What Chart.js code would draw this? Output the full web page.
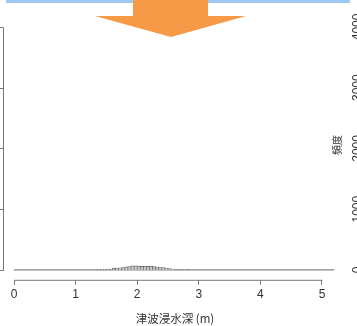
<!DOCTYPE html>
<html>
<head>
<meta charset="utf-8">
<script src="https://cdn.jsdelivr.net/npm/chart.js@4/dist/chart.umd.min.js"></script>
<style>
    body { margin: 0; background: #fff; }
    #wrap { position: relative; width: 357px; height: 326px; overflow: hidden; }
    #topBar { position: absolute; left: 6px; top: 0; width: 344px; height: 3px; background: #9fc9f4; }
    #arrow {
        position: absolute; left: 95px; top: 0; width: 151px; height: 37px; background: #f79a48;
        clip-path: polygon(38px 0, 113px 0, 113px 16px, 151px 16px, 76px 37px, 0 16px, 38px 16px);
    }
</style>
</head>
<body>
<div id="wrap">
    <canvas id="histChart" width="357" height="326"></canvas>
    <div id="topBar"></div>
    <div id="arrow"></div>
</div>
<script>
// bin left edges (m), width 0.05
const binStarts = [1.35, 1.40, 1.45, 1.50, 1.55, 1.60, 1.65, 1.70, 1.75, 1.80, 1.85, 1.90, 1.95, 2.00,
    2.05, 2.10, 2.15, 2.20, 2.25, 2.30, 2.35, 2.40, 2.45, 2.50, 2.55, 2.60, 2.65, 2.70, 2.75, 2.80];
const counts = [8, 10, 10, 12, 14, 25, 30, 35, 40, 50, 55, 65, 65, 62,
    58, 60, 58, 62, 55, 48, 40, 38, 30, 22, 15, 12, 8, 6, 0, 5];
const binWidth = 0.05;
// empty bins of the histogram show up as a flat line over the whole break range
const baselineX = [0, 5.2];
const xTicks = [0, 1, 2, 3, 4, 5];
const yTicks = [0, 1000, 2000, 3000, 4000];
const yTickLabels = ['0', '1000', '2000', '3000', '4000'];
const xTitle = '津波浸水深 (m)';
const yTitle = '頻度';

const barData = binStarts.map((b, i) => ({ x: b + binWidth / 2, y: counts[i] }));
const baseData = baselineX.map(x => ({ x: x, y: 0 }));

// axes drawn like R: y axis on the left edge, x axis line only from 0 to 5,
// plus the neighbouring panel's y labels peeking in on the right
const rAxes = {
    id: 'rAxes',
    afterDraw(chart) {
        const c = chart.ctx;
        const xs = chart.scales.x;
        const ys = chart.scales.y;
        const area = chart.chartArea;
        c.save();
        c.strokeStyle = '#777';
        c.lineWidth = 1;
        c.beginPath();
        c.moveTo(Math.round(xs.getPixelForValue(0)) + 0.5, area.bottom + 0.5);
        c.lineTo(Math.round(xs.getPixelForValue(5)) + 0.5, area.bottom + 0.5);
        // left y axis
        const lx = area.left + 0.5;
        c.moveTo(lx, Math.round(ys.getPixelForValue(0)) + 0.5);
        c.lineTo(lx, Math.round(ys.getPixelForValue(4000)) + 0.5);
        yTicks.forEach(v => {
            const py = Math.round(ys.getPixelForValue(v)) + 0.5;
            c.moveTo(lx, py);
            c.lineTo(lx - 5, py);
        });
        c.stroke();

        c.fillStyle = '#333';
        c.textAlign = 'center';
        c.textBaseline = 'alphabetic';
        c.font = '12px "Liberation Sans", Arial, sans-serif';
        yTicks.forEach((v, i) => {
            c.save();
            c.translate(361, ys.getPixelForValue(v));
            c.rotate(-Math.PI / 2);
            c.fillText(yTickLabels[i], 0, 0);
            c.restore();
        });
        c.font = '10px "Noto Sans CJK JP", sans-serif';
        c.save();
        c.translate(341, 145);
        c.rotate(-Math.PI / 2);
        c.fillText(yTitle, 0, 0);
        c.restore();
        c.restore();
    }
};

const ctx = document.getElementById('histChart').getContext('2d');
const histChart = new Chart(ctx, {
    data: {
        datasets: [
            {
                type: 'line',
                data: baseData,
                borderColor: '#666',
                borderWidth: 1,
                pointRadius: 0,
                order: 2,
            },
            {
                type: 'bar',
                data: barData,
                backgroundColor: '#c8c8c8',
                borderColor: '#555',
                borderWidth: 0.6,
                barPercentage: 1,
                categoryPercentage: 1,
                order: 1,
            },
        ],
    },
    options: {
        responsive: false,
        animation: false,
        layout: { padding: { top: 17, left: 3, right: 10, bottom: 0 } },
        plugins: { legend: { display: false }, tooltip: { enabled: false } },
        scales: {
            x: {
                type: 'linear',
                offset: false,
                min: -0.1786,
                max: 5.406,
                afterBuildTicks: s => { s.ticks = xTicks.map(v => ({ value: v })); },
                border: { display: false },
                grid: { offset: false, drawOnChartArea: false, drawTicks: true, tickLength: 5, color: '#777' },
                ticks: {
                    padding: 3,
                    color: '#333',
                    maxRotation: 0,
                    font: { family: '"Liberation Sans", Arial, sans-serif', size: 12 },
                },
                title: {
                    display: true,
                    text: xTitle,
                    color: '#333',
                    padding: { top: 7, bottom: 0 },
                    font: { family: '"Noto Sans CJK JP", sans-serif', size: 11.5 },
                },
            },
            y: {
                display: false,
                min: -163,
                max: 4163,
            },
        },
    },
    plugins: [rAxes],
});
</script>
</body>
</html>
